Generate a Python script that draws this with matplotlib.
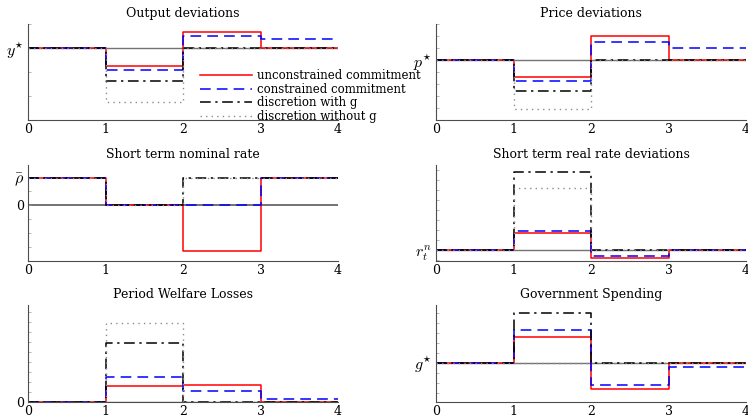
import matplotlib
matplotlib.use("Agg")
import matplotlib.pyplot as plt
import numpy as np

plt.rcParams['font.family'] = ['DejaVu Serif']
plt.rcParams['mathtext.fontset'] = 'cm'

# periods (step edges)
periods = [0, 1, 2, 3, 4]

# values per period (0-1, 1-2, 2-3, 3-4) in arbitrary units
output_unc = [0, -0.74, 0.65, 0]
output_con = [0, -0.92, 0.51, 0.36]
output_dg = [0, -1.38, 0, 0]
output_dng = [0, -2.24, 0, 0]

price_unc = [0, -1.39, 2.0, 0]
price_con = [0, -1.72, 1.47, 0.97]
price_dg = [0, -2.58, 0, 0]
price_dng = [0, -4.1, 0, 0]

nom_unc = [1, 0, -1.64, 1]
nom_con = [1, 0, 0, 1]
nom_dg = [1, 0, 1, 1]
nom_dng = [1, 0, 1, 1]

real_unc = [0, 1.76, -0.74, 0]
real_con = [0, 1.96, -0.57, 0]
real_dg = [0, 7.86, 0, 0]
real_dng = [0, 6.2, 0, 0]

loss_unc = [0, 1.57, 1.67, 0]
loss_con = [0, 2.5, 1.07, 0.34]
loss_dg = [0, 5.84, 0, 0]
loss_dng = [0, 7.9, 0, 0]

gov_unc = [0, 2.54, -2.56, 0]
gov_con = [0, 3.27, -2.16, -0.46]
gov_dg = [0, 4.94, 0, 0]
gov_dng = [0, 0, 0, 0]

labels = ['unconstrained commitment', 'constrained commitment',
          'discretion with g', 'discretion without g']

panels = [
    ("Output deviations", [output_unc, output_con, output_dg, output_dng], r"$y^{\star}$", (-3, 1), 1),
    ("Price deviations", [price_unc, price_con, price_dg, price_dng], r"$p^{\star}$", (-5, 3), 1),
    ("Short term nominal rate", [nom_unc, nom_con, nom_dg, nom_dng], "0", (-2, 1.45), 0.5),
    ("Short term real rate deviations", [real_unc, real_con, real_dg, real_dng], r"$r^n_t$", (-1.07, 8.53), 1),
    ("Period Welfare Losses", [loss_unc, loss_con, loss_dg, loss_dng], "0", (0, 9.67), 1),
    ("Government Spending", [gov_unc, gov_con, gov_dg, gov_dng], r"$g^{\star}$", (-3.9, 5.77), 1),
]

styles = [
    dict(color='red', lw=1.1, ls='-'),
    dict(color='blue', lw=1.1, ls=(0, (7, 4))),
    dict(color='black', lw=1.1, ls=(0, (7, 3, 1.5, 3))),
    dict(color='0.55', lw=1.0, ls=(0, (1, 3))),
]

fig = plt.figure(figsize=(7.48, 4.16), dpi=100)

lefts = [28 / 748, 436 / 748]
width = 310 / 748
rows = [(1 - 120 / 416, 96 / 416), (1 - 261 / 416, 96 / 416), (1 - 402 / 416, 97 / 416)]

for i, (title, series, reflabel, ylim, minor_step) in enumerate(panels):
    r, c = divmod(i, 2)
    ax = fig.add_axes([lefts[c], rows[r][0], width, rows[r][1]])
    ax.axhline(0, color='0.45', lw=1.0 if i != 2 else 1.4, zorder=1)
    for vals, st in zip(series, styles):
        ax.step(periods, vals + [vals[-1]], where='post', zorder=2, **st)
    ax.set_xlim(0, 4)
    ax.set_ylim(*ylim)
    ax.set_title(title, fontsize=9, pad=5)
    ax.spines['top'].set_visible(False)
    ax.spines['right'].set_visible(False)
    ax.spines['left'].set_color('0.3')
    ax.spines['bottom'].set_color('0.3')
    ax.set_xticks(periods)
    ax.set_xticklabels([str(p) for p in periods], fontsize=9)
    if i == 2:
        ax.set_yticks([0, 1])
        ax.set_yticklabels(["0", r"$\bar{\rho}$"])
    else:
        ax.set_yticks([0])
        ax.set_yticklabels([reflabel])
    for t in ax.get_yticklabels():
        t.set_fontsize(9 if t.get_text() == "0" else 11.5)
    lo, hi = ylim
    mt = np.arange(np.ceil(lo / minor_step) * minor_step, hi + 1e-9, minor_step)
    ax.set_yticks(mt, minor=True)
    ax.tick_params(axis='y', which='both', direction='in', length=2, width=0.5, color='0.6', pad=3)
    ax.tick_params(axis='x', direction='in', length=0, pad=2)

    if i == 0:
        handles = ax.get_lines()[1:5]
        ax.legend(handles, labels, loc='upper left', bbox_to_anchor=(0.555, 0.53),
                  frameon=False, fontsize=8.5, handlelength=4.4, handletextpad=0.4,
                  labelspacing=0.05, borderpad=0, borderaxespad=0)

fig.savefig("out.png", dpi=100)
